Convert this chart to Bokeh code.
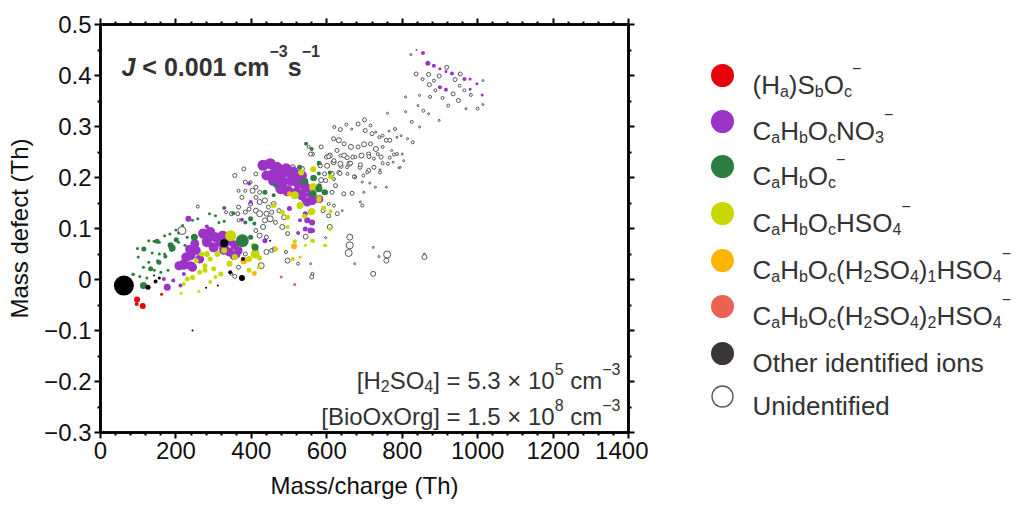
from bokeh.plotting import figure
from bokeh.models import Range1d, LinearAxis, FixedTicker, CustomJSTickFormatter, Label
from bokeh.layouts import row
from bokeh.embed import file_html
from bokeh.resources import INLINE

FONT = "Liberation Sans"

# ---------------- data (m/z in Th, mass defect in Th, marker diameter) ----------------
red_mz = [97, 96, 112, 162]
red_md = [-0.039, -0.048, -0.052, -0.029]
red_sz = [6, 4, 6, 3]

purple_mz = [431, 450, 468, 492, 510, 524, 459, 487, 534, 459, 482, 506, 524, 543, 478, 496, 520, 534, 557, 562,
             548, 580, 440, 468, 510,
             272, 291, 305, 324, 342, 356, 328, 300, 282, 254, 240, 226, 244, 221, 263, 361, 366, 342, 319, 250, 235,
             208, 221, 239, 230, 283, 327, 354,
             233, 282, 177, 168, 193, 212, 221, 328, 398, 436, 461, 524, 529, 562, 543, 501, 394, 375, 543, 561, 557,
             543, 548, 539,
             838, 855, 868, 884, 900, 916, 932, 965, 980, 900, 916, 980, 998, 1012]
purple_md = [0.224, 0.227, 0.220, 0.217, 0.211, 0.204, 0.207, 0.210, 0.204, 0.194, 0.191, 0.194, 0.188, 0.181, 0.178,
             0.174, 0.171, 0.165, 0.168, 0.155, 0.152, 0.158, 0.204, 0.207, 0.207,
             0.090, 0.093, 0.083, 0.086, 0.076, 0.067, 0.060, 0.063, 0.073, 0.057, 0.047, 0.044, 0.024, 0.027, 0.040,
             0.050, 0.057, 0.054, 0.073, 0.070, 0.060,
             0.027, 0.031, 0.027, 0.044, 0.080, 0.057, 0.047,
             0.119, 0.104, -0.015, 0.001, -0.002, -0.012, 0.011, 0.140, 0.152, 0.076, 0.060, 0.091, 0.116, 0.096,
             0.129, 0.139, 0.188, 0.117, 0.189, 0.112, 0.096, 0.099, 0.116, 0.156,
             0.450, 0.444, 0.424, 0.419, 0.413, 0.408, 0.404, 0.393, 0.393, 0.377, 0.372, 0.373, 0.384, 0.362]
purple_sz = [11, 11, 11, 11, 11, 11, 11, 11, 10, 11, 11, 11, 10, 10, 11, 11, 10, 10, 9, 9,
             9, 8, 10, 11, 11,
             10, 10, 10, 10, 10, 9, 10, 10, 10, 9, 9, 9, 9, 8, 9, 8, 8, 9, 10, 9, 8,
             9, 9, 9, 9, 10, 9, 9,
             6, 4, 7, 4, 4, 4, 4, 4, 4, 5, 5, 4, 4, 5, 5, 5, 4, 4, 6, 6, 6, 5, 6, 5,
             2, 4, 5, 4, 3, 3, 4, 4, 3, 4, 4, 3, 3, 3]

green_mz = [545, 560, 580, 528, 543, 566, 580, 532, 564, 597, 436, 459, 398, 408, 376, 410, 398, 464, 608, 579,
            352, 384, 314, 579, 564, 579, 594,
            86, 98, 114, 128, 142, 156, 170, 184, 200, 218, 244, 258, 289, 305, 328, 114, 128, 151, 170, 188, 207,
            224, 143, 104, 123, 160, 179, 100, 137, 156, 207, 230, 249, 190, 114, 115, 150, 186, 201, 155, 133, 172,
            87]
green_md = [0.266, 0.256, 0.228, 0.220, 0.193, 0.199, 0.184, 0.193, 0.168, 0.171, 0.171, 0.165, 0.119, 0.110,
            0.076, 0.063, 0.083, 0.184, 0.210, 0.208, 0.130, 0.112, 0.112, 0.229, 0.199, 0.178, 0.171,
            0.011, 0.061, 0.060, 0.076, 0.075, 0.073, 0.086, 0.089, 0.097, 0.106, 0.116, 0.119, 0.129, 0.125, 0.114,
            0.024, 0.034, 0.037, 0.050, 0.057, 0.073, 0.067, 0.018, 0.006, 0.003, 0.014, 0.018, 0.044, 0.052, 0.050,
            0.091, 0.083, 0.083, 0.062, -0.012, 0.060, 0.075, 0.067, 0.078, 0.034, 0.021, 0.045, 0.010]
green_sz = [4, 4, 4, 5, 6, 6, 5, 4, 7, 5, 5, 4, 5, 4, 13, 7, 5, 4, 4, 4, 4, 4, 3, 4, 6, 7, 6,
            3, 3, 3, 3, 3, 3, 3, 3, 3, 3, 3, 3, 3, 3, 3, 3, 3, 3, 3, 3, 3, 3, 3, 3, 3, 3, 3, 3, 3, 3,
            3, 3, 7, 7, 7, 5, 5, 6, 5, 5, 5, 4, 3]

lime_mz = [345, 410, 532, 564, 515, 529, 562, 580, 613, 482, 459, 496, 496, 515, 564, 594, 464, 422, 394, 328, 310,
           291, 277, 263, 244, 230, 221, 214, 261, 277, 300, 319, 342, 356, 305, 291, 268, 254, 282, 394, 420, 405,
           510, 597, 564, 610, 579, 559, 610, 592, 541, 608, 561, 543, 565, 328]
lime_md = [0.086, 0.050, 0.210, 0.181, 0.165, 0.145, 0.134, 0.160, 0.201, 0.132, 0.145, 0.122, 0.103, 0.075, 0.076,
           0.067, 0.060, 0.042, 0.040, 0.057, 0.050, 0.040, 0.027, 0.014, 0.004, 0.001, -0.009, -0.027, -0.023,
           0.018, 0.021, 0.011, 0.031, 0.044, 0.005, -0.005, 0.050, 0.037, 0.050, 0.018, 0.024, 0.067, 0.040, 0.067,
           0.216, 0.202, 0.156, 0.133, 0.134, 0.140, 0.124, 0.099, 0.076, 0.067, 0.217, 0.071]
lime_sz = [11, 9, 6, 8, 8, 7, 6, 5, 4, 5, 5, 5, 4, 4, 4, 3, 5, 5, 6, 6, 6, 5, 5, 5, 5, 5, 4, 3, 3, 5, 5, 5, 6, 6,
           4, 4, 5, 5, 6, 5, 4, 5, 4, 3, 6, 5, 5, 7, 4, 5, 5, 4, 4, 3, 3, 3]

orange_mz = [380, 408, 501, 513, 529]
orange_md = [0.037, 0.012, 0.168, 0.065, 0.044]
orange_sz = [7, 5, 5, 6, 3]

salmon_mz = [479, 515]
salmon_md = [0.005, -0.010]
salmon_sz = [3, 3]

other_mz = [62, 126, 146, 156, 142, 280, 311, 344, 375, 378, 450, 244, 328]
other_md = [-0.012, -0.015, -0.004, 0.003, 0.008, -0.016, -0.012, 0.014, 0.003, 0.040, 0.076, -0.100, 0.071]
other_sz = [20, 5, 4, 3, 2, 2, 2, 4, 6, 4, 2, 2, 8]

unid_mz = [823, 837, 854, 870, 872, 884, 898, 952, 940, 965, 982, 949, 922, 969, 1000, 1014, 1014, 954, 888, 874,
           846, 809, 842, 856, 870, 898, 846, 825, 809, 761, 918, 935, 907,
           620, 636, 652, 666, 683, 700, 716, 702, 730, 748, 765, 781, 797, 814, 828, 786, 758, 739, 720, 618, 632,
           646, 664, 683, 699, 716, 730, 748, 772, 786, 800, 767, 627, 646, 669, 692, 711, 725, 744, 762, 776, 795,
           741, 711, 688, 660, 638, 618, 599, 580, 562, 552, 585, 608, 534, 510, 496, 478, 594, 613, 632, 655, 674,
           697, 380, 412, 356,
           557, 605, 636, 654, 676, 712, 735, 778, 804, 767, 748, 725, 707, 689, 663, 636, 619, 601, 583, 585, 597,
           619, 635, 654, 672, 694, 698, 667, 645, 623, 614, 605, 619, 641, 628, 605, 590, 689, 694, 714, 729, 758,
           741, 791, 661, 661, 658, 723, 738, 760, 758, 674, 723, 859, 859, 597, 608, 560, 557, 544,
           356, 384, 403, 412, 422, 436, 445, 459, 473, 487, 412, 394, 398, 384, 364, 366, 347, 333, 366, 422, 440,
           454, 436, 450, 464, 482, 496, 431, 412, 422, 440, 454, 412, 426, 366, 347, 356, 384, 440, 492, 496, 524,
           562, 560, 412, 366, 375, 398, 422, 216, 250, 258, 384]
unid_md = [0.441, 0.403, 0.393, 0.402, 0.382, 0.390, 0.399, 0.380, 0.392, 0.371, 0.362, 0.351, 0.341, 0.335, 0.335,
           0.390, 0.343, 0.403, 0.371, 0.358, 0.361, 0.358, 0.341, 0.331, 0.325, 0.312, 0.299, 0.309, 0.329, 0.326,
           0.416, 0.364, 0.356,
           0.299, 0.294, 0.304, 0.295, 0.305, 0.313, 0.302, 0.292, 0.289, 0.282, 0.291, 0.295, 0.282, 0.276, 0.269,
           0.279, 0.273, 0.279, 0.286, 0.276, 0.273, 0.266, 0.260, 0.260, 0.265, 0.266, 0.256, 0.260, 0.253, 0.246,
           0.246, 0.273, 0.253, 0.243, 0.240, 0.243, 0.246, 0.237, 0.240, 0.227, 0.230, 0.220, 0.210, 0.214, 0.220,
           0.227, 0.222, 0.230, 0.240, 0.227, 0.246, 0.260, 0.260, 0.243, 0.217, 0.220, 0.217, 0.219, 0.207, 0.207,
           0.210, 0.207, 0.201, 0.204, 0.217, 0.207, 0.205,
           0.246, 0.241, 0.243, 0.239, 0.240, 0.241, 0.246, 0.245, 0.233, 0.239, 0.228, 0.220, 0.210, 0.225, 0.228,
           0.227, 0.233, 0.223, 0.223, 0.195, 0.194, 0.197, 0.208, 0.220, 0.202, 0.191, 0.171, 0.169, 0.168, 0.184,
           0.171, 0.148, 0.145, 0.135, 0.129, 0.125, 0.135, 0.152, 0.145, 0.189, 0.181, 0.181, 0.215, 0.219, 0.083,
           0.067, 0.052, 0.063, 0.045, 0.049, 0.037, 0.031, 0.011, 0.050, 0.044, 0.082, 0.103, 0.005, 0.031, 0.084,
           0.204, 0.191, 0.174, 0.161, 0.152, 0.155, 0.142, 0.148, 0.135, 0.122, 0.135, 0.138, 0.148, 0.132, 0.129,
           0.116, 0.129, 0.132, 0.142, 0.129, 0.129, 0.132, 0.116, 0.119, 0.112, 0.103, 0.090, 0.103, 0.096, 0.086,
           0.083, 0.057, 0.057, 0.027, 0.024, 0.011, 0.006, 0.050, 0.054, 0.054, 0.037, 0.031, 0.011, 0.005, 0.181,
           0.174, 0.161, 0.191, 0.171, 0.096, 0.084, 0.143, 0.174]
unid_sz = [2, 4, 3, 4, 4, 3, 4, 3, 4, 3, 3, 4, 3, 2, 3, 2, 2, 4, 3, 3, 2, 2, 2, 3, 2, 2, 2, 3, 2, 2, 4, 4, 3,
           3, 4, 3, 2, 4, 4, 3, 4, 2, 3, 2, 3, 2, 2, 3, 2, 4, 3, 4, 4, 5, 4, 5, 4, 5, 4, 5, 3, 2, 3, 2, 4, 4, 5,
           4, 5, 4, 3, 4, 3, 2, 2, 3, 4, 4, 5, 4, 5, 4, 4, 4, 3, 4, 5, 5, 5, 4, 5, 4, 5, 4, 3, 4, 3, 4, 4, 2,
           4, 4, 3, 4, 3, 4, 3, 3, 2, 3, 3, 4, 3, 4, 4, 5, 4, 5, 4, 5, 4, 3, 4, 3, 3, 2, 2, 4, 4, 4, 4, 3, 3, 2,
           4, 4, 4, 2, 3, 2, 2, 2, 2, 2, 6, 7, 7, 2, 2, 7, 5, 2, 5, 2, 5, 2, 5, 2, 2, 5,
           4, 4, 5, 4, 5, 5, 4, 5, 4, 5, 5, 4, 4, 4, 4, 3, 4, 3, 4, 6, 5, 4, 5, 6, 4, 5, 4, 5, 4, 5, 4, 4, 4, 6,
           4, 3, 4, 4, 5, 3, 5, 3, 3, 4, 4, 3, 4, 3, 4, 8, 4, 3, 3]

X_TICKS = [0, 200, 400, 600, 800, 1000, 1200, 1400]
X_TICK_LABELS = ["0", "200", "400", "600", "800", "1000", "1200", "1400"]
X_MINOR = [40, 80, 120, 160, 240, 280, 320, 360, 440, 480, 520, 560, 640, 680, 720, 760, 840, 880, 920, 960,
           1040, 1080, 1120, 1160, 1240, 1280, 1320, 1360]
Y_TICKS = [-0.3, -0.2, -0.1, 0.0, 0.1, 0.2, 0.3, 0.4, 0.5]
Y_TICK_LABELS = ["\u22120.3", "\u22120.2", "\u22120.1", "0", "0.1", "0.2", "0.3", "0.4", "0.5"]
Y_MINOR = [-0.25, -0.15, -0.05, 0.05, 0.15, 0.25, 0.35, 0.45]

LEGEND_LABELS = [
    [("(H", "n"), ("a", "sub"), (")S", "n"), ("b", "sub"), ("O", "n"), ("c", "sub"), ("\u2212", "sup")],
    [("C", "n"), ("a", "sub"), ("H", "n"), ("b", "sub"), ("O", "n"), ("c", "sub"), ("NO", "n"), ("3", "sub"),
     ("\u2212", "sup")],
    [("C", "n"), ("a", "sub"), ("H", "n"), ("b", "sub"), ("O", "n"), ("c", "sub"), ("\u2212", "sup")],
    [("C", "n"), ("a", "sub"), ("H", "n"), ("b", "sub"), ("O", "n"), ("c", "sub"), ("HSO", "n"), ("4", "sub"),
     ("\u2212", "sup")],
    [("C", "n"), ("a", "sub"), ("H", "n"), ("b", "sub"), ("O", "n"), ("c", "sub"), ("(H", "n"), ("2", "sub"),
     ("SO", "n"), ("4", "sub"), (")", "n"), ("1", "sub"), ("HSO", "n"), ("4", "sub"), ("\u2212", "sup")],
    [("C", "n"), ("a", "sub"), ("H", "n"), ("b", "sub"), ("O", "n"), ("c", "sub"), ("(H", "n"), ("2", "sub"),
     ("SO", "n"), ("4", "sub"), (")", "n"), ("2", "sub"), ("HSO", "n"), ("4", "sub"), ("\u2212", "sup")],
    [("Other identified ions", "n")],
    [("Unidentified", "n")],
]
TITLE = [("J", "n"), (" < 0.001 cm", "n"), ("\u22123", "sup"), ("s", "n"), ("\u22121", "sup")]
ANN1 = [("[H", "n"), ("2", "sub"), ("SO", "n"), ("4", "sub"), ("] = 5.3 \u00d7 10", "n"), ("5", "sup"),
        (" cm", "n"), ("\u22123", "sup")]
ANN2 = [("[BioOxOrg] = 1.5 \u00d7 10", "n"), ("8", "sup"), (" cm", "n"), ("\u22123", "sup")]

COL_RED = "#e8000b"
COL_PURPLE = "#9a33c6"
COL_GREEN = "#2e7d40"
COL_LIME = "#c6d800"
COL_ORANGE = "#ffb400"
COL_SALMON = "#ea6352"
COL_OTHER = "#000000"
COL_OTHER_LEG = "#3a3538"
COL_UNID = "#555555"
TXT = "#333333"

# ---------------- geometry (page pixels; the page has no margin) ----------------
FL, FR, FT, FB = 100, 628, 24, 432
PAGE_H = 504
P_W = 648
LEG_R = 1016
X0, X1, Y0, Y1 = 0, 1400, -0.3, 0.5


def px2x(px):
    return X0 + (px - FL) * (X1 - X0) / (FR - FL)


def py2y(py):
    return Y1 - (py - FT) * (Y1 - Y0) / (FB - FT)


# ---------------- text metrics (Arial / Liberation Sans advance widths) ----------------
W_REG = {' ': 278, '(': 333, ')': 333, '[': 278, ']': 278, '=': 584, '\u00d7': 584, '.': 278, '\u2212': 584,
         '/': 278, 'A': 667, 'B': 667, 'C': 722, 'H': 722, 'N': 722, 'O': 778, 'S': 667, 'U': 722,
         'a': 556, 'b': 556, 'c': 500, 'd': 556, 'e': 556, 'f': 278, 'g': 556, 'h': 556, 'i': 222, 'l': 222,
         'm': 833, 'n': 556, 'o': 556, 'r': 333, 's': 500, 't': 278, 'x': 500}
W_BOLD = {' ': 278, '<': 584, '.': 278, '\u2212': 584, 'J': 556, 'c': 556, 'm': 889, 's': 556}


def tw(s, size, bold=False):
    table = W_BOLD if bold else W_REG
    return sum(table.get(ch, 556) for ch in s) * size / 1000.0


def seg_width(segs, big, small, bold=False):
    return sum(tw(t, big if k == "n" else small, bold) for t, k in segs)


def emit(fig, tx, ty, segs, x_px, base_px, big, small, sub_dy, sup_dy, bold=False, italic_first=False,
         color=TXT):
    x = x_px
    for i, (txt, kind) in enumerate(segs):
        sz = big if kind == "n" else small
        dy = 0 if kind == "n" else (sub_dy if kind == "sub" else sup_dy)
        lead = len(txt) - len(txt.lstrip(" "))
        x += tw(" " * lead, sz, bold)
        core = txt.strip(" ")
        style = "normal"
        if bold:
            style = "bold italic" if (italic_first and i == 0) else "bold"
        fig.add_layout(Label(x=tx(x), y=ty(base_px + dy), text=core, text_font=FONT,
                             text_font_size=f"{sz}px", text_font_style=style, text_color=color,
                             text_baseline="alphabetic", text_align="left"))
        trail = len(txt) - len(txt.rstrip(" ")) if core else 0
        x += tw(core, sz, bold) + tw(" " * trail, sz, bold)


# ---------------- main plot ----------------
p = figure(width=P_W, height=PAGE_H, x_range=Range1d(X0, X1), y_range=Range1d(Y0, Y1),
           output_backend="svg", toolbar_location=None, tools="",
           min_border_left=FL, min_border_right=P_W - FR, min_border_top=FT, min_border_bottom=PAGE_H - FB)
p.xgrid.visible = False
p.ygrid.visible = False
p.outline_line_color = "black"
p.outline_line_width = 2.5
p.background_fill_color = "white"
p.border_fill_color = "white"

xt = FixedTicker(ticks=X_TICKS, minor_ticks=X_MINOR)
yt = FixedTicker(ticks=Y_TICKS, minor_ticks=Y_MINOR)
code = """
let best = 0; for (let i = 0; i < t.length; i++) { if (Math.abs(t[i]-tick) < Math.abs(t[best]-tick)) best = i; }
return l[best];"""
xfmt = CustomJSTickFormatter(args=dict(t=X_TICKS, l=X_TICK_LABELS), code=code)
yfmt = CustomJSTickFormatter(args=dict(t=Y_TICKS, l=Y_TICK_LABELS), code=code)
blank = CustomJSTickFormatter(code="return '';")


def style_axis(ax):
    ax.axis_line_width = 2.5
    ax.axis_line_color = "black"
    ax.major_tick_line_width = 2
    ax.minor_tick_line_width = 2
    ax.major_tick_in = 0
    ax.major_tick_out = 6
    ax.minor_tick_in = 0
    ax.minor_tick_out = 3
    ax.major_label_text_font = FONT
    ax.major_label_text_font_size = "24px"
    ax.major_label_text_color = "#111111"
    ax.axis_label_text_font = FONT
    ax.axis_label_text_font_size = "24px"
    ax.axis_label_text_font_style = "normal"
    ax.axis_label_text_color = "#111111"


xa = p.xaxis[0]
xa.ticker = xt
xa.formatter = xfmt
xa.axis_label = "Mass/charge (Th)"
style_axis(xa)
xa.major_label_standoff = 3
xa.axis_label_standoff = 10

ya = p.yaxis[0]
ya.ticker = yt
ya.formatter = yfmt
ya.axis_label = "Mass defect (Th)"
style_axis(ya)
ya.major_label_standoff = 3
ya.axis_label_standoff = 8

top = LinearAxis(ticker=xt, formatter=blank)
style_axis(top)
top.major_label_text_font_size = "0px"
top.major_label_standoff = 0
right = LinearAxis(ticker=yt, formatter=blank)
style_axis(right)
right.major_label_text_font_size = "0px"
right.major_label_standoff = 0
p.add_layout(top, "above")
p.add_layout(right, "right")

p.scatter(unid_mz, unid_md, size=unid_sz, fill_color="white", line_color=COL_UNID, line_width=1)
p.scatter(purple_mz, purple_md, size=purple_sz, fill_color=COL_PURPLE, line_color=None)
p.scatter(lime_mz, lime_md, size=lime_sz, fill_color=COL_LIME, line_color=None)
p.scatter(green_mz, green_md, size=green_sz, fill_color=COL_GREEN, line_color=None)
p.scatter(orange_mz, orange_md, size=orange_sz, fill_color=COL_ORANGE, line_color=None)
p.scatter(salmon_mz, salmon_md, size=salmon_sz, fill_color=COL_SALMON, line_color=None)
p.scatter(other_mz, other_md, size=other_sz, fill_color=COL_OTHER, line_color=None)
p.scatter(red_mz, red_md, size=red_sz, fill_color=COL_RED, line_color=None)

emit(p, px2x, py2y, TITLE, 121, 66, 25, 16, 5, -16, bold=True, italic_first=True)
w1 = seg_width(ANN1, 24, 16)
emit(p, px2x, py2y, ANN1, 620 - w1, 380, 24, 16, 5, -12)
w2 = seg_width(ANN2, 24, 16)
emit(p, px2x, py2y, ANN2, 620 - w2, 416, 24, 16, 5, -12)

# ---------------- legend panel: its frame is aligned with the plot frame; data units = page pixels -------------
q = figure(width=LEG_R - P_W, height=PAGE_H, x_range=Range1d(P_W, LEG_R), y_range=Range1d(FB, FT),
           output_backend="svg", toolbar_location=None, tools="",
           x_axis_location=None, y_axis_location=None,
           min_border_left=0, min_border_right=0, min_border_top=FT, min_border_bottom=PAGE_H - FB)
q.xgrid.visible = False
q.ygrid.visible = False
q.outline_line_color = None
q.background_fill_color = "white"
q.border_fill_color = "white"

leg_fill = [COL_RED, COL_PURPLE, COL_GREEN, COL_LIME, COL_ORANGE, COL_SALMON, COL_OTHER_LEG]
row_px = [75, 121, 166, 213, 260, 306, 353, 396]
mark_px = 722
text_px = 752
q.scatter([mark_px] * 7, row_px[:7], size=23, fill_color=leg_fill, line_color=None)
q.scatter([mark_px], [row_px[7]], size=21, fill_color="white", line_color="#555555", line_width=1.3)
ident = lambda v: v
for i, segs in enumerate(LEGEND_LABELS):
    emit(q, ident, ident, segs, text_px, row_px[i] + 9.5, 26, 16, 6, -17)

open("out.html", "w").write(file_html(row(p, q), INLINE))
